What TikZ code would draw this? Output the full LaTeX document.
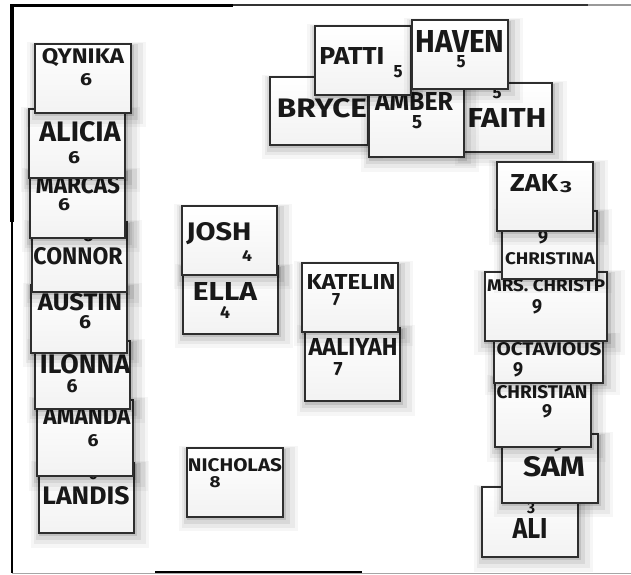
\documentclass[tikz,border=0pt]{standalone}
\usepackage{fontspec}
\setmainfont{Fira Sans}
\usepackage{graphicx}
\usetikzlibrary{shadows}
\tikzset{
  card/.style={rectangle, draw=black!82, line width=1.3pt, inner sep=0pt, outer sep=0pt,
    top color=white, bottom color=black!5,
    general shadow={shadow scale=1.24, shadow xshift=3pt, shadow yshift=-5pt, fill=black, opacity=0.035},
    general shadow={shadow scale=1.17, shadow xshift=3pt, shadow yshift=-4pt, fill=black, opacity=0.05},
    general shadow={shadow scale=1.10, shadow xshift=2pt, shadow yshift=-3pt, fill=black, opacity=0.07},
    general shadow={shadow scale=1.04, shadow xshift=1.5pt, shadow yshift=-2pt, fill=black, opacity=0.11}},
  nm/.style={inner sep=0pt, outer sep=0pt, text=black!90, font=\bfseries},
  frame/.style={draw=black, line cap=butt},
}
\newcommand\cardbox[5]{%
  \pgfmathsetmacro\cbw{#4-#2}\pgfmathsetmacro\cbh{#5-#3}%
  \node[card, minimum width=\cbw pt, minimum height=\cbh pt] (#1) at ({(#2+#4)/2},{(#3+#5)/2}) {};}
\newcommand\putname[6]{%
  \node[nm] (#1) at (#2,#3) {\resizebox{#4pt}{#5pt}{#6}};}
\begin{document}
\begin{tikzpicture}[x=1pt,y=-1pt]
\useasboundingbox[fill=white] (0,0) rectangle (631,574);
% frame
\coordinate (tl) at (12,5);
\coordinate (tm) at (233,5);
\coordinate (tr1) at (588,5);
\coordinate (tr2) at (631,5);
\coordinate (lm) at (12,222);
\coordinate (lb) at (12,573);
\coordinate (br) at (631,573);
\coordinate (bt1) at (155,572);
\coordinate (bt2) at (362,572);
\draw[frame, black!35, line width=1pt] (lb) -- (br);
\draw[frame, black!80, line width=1.6pt] (tm) -- (tr1);
\draw[frame, black!40, line width=1.2pt] (tr1) -- (tr2);
\draw[frame, line width=3pt] (tl) -- (tm);
\draw[frame, line width=4pt] (12,4) -- (lm);
\draw[frame, line width=1.6pt] (lm) -- (lb);
\draw[frame, line width=2pt] (bt1) -- (bt2);

% left column
\cardbox{landis}{39}{463}{134}{533}
\putname{landis-d}{93}{474}{9}{12}{6}
\putname{landis-n}{86}{496}{87}{18}{LANDIS}
\cardbox{amanda}{37}{400}{133}{476}
\putname{amanda-n}{87}{416}{87}{17}{AMANDA}
\putname{amanda-d}{93}{441}{11}{12}{6}
\cardbox{ilonna}{35}{341}{130}{409}
\putname{ilonna-n}{85}{364}{90}{19}{ILONNA}
\putname{ilonna-d}{72}{386}{11}{13}{6}
\cardbox{austin}{31}{285}{127}{353}
\putname{austin-n}{80}{302}{84}{17}{AUSTIN}
\putname{austin-d}{85}{322}{12}{13}{6}
\cardbox{connor}{32}{222}{127}{292}
\putname{connor-d}{88}{236}{11}{12}{6}
\putname{connor-n}{78}{256}{89}{17}{CONNOR}
\cardbox{marcas}{30}{170}{125}{238}
\putname{marcas-n}{78}{185}{84}{17}{MARCAS}
\putname{marcas-d}{64}{205}{12}{12}{6}
\cardbox{alicia}{29}{109}{125}{178}
\putname{alicia-n}{80}{132}{81}{20}{ALICIA}
\putname{alicia-d}{74}{158}{12}{12}{6}
\cardbox{qynika}{35}{44}{131}{113}
\putname{qynika-n}{83}{58}{82}{15}{QYNIKA}
\putname{qynika-d}{86}{80}{12}{12}{6}

% middle
\cardbox{ella}{183}{266}{278}{334}
\putname{ella-n}{225}{291}{64}{18}{ELLA}
\putname{ella-d}{225}{312}{10}{12}{4}
\cardbox{josh}{182}{206}{277}{275}
\putname{josh-n}{219}{234}{65}{18}{JOSH}
\putname{josh-d}{247}{256}{10}{11}{4}
\cardbox{aaliyah}{305}{328}{400}{401}
\putname{aaliyah-n}{353}{347}{89}{17}{AALIYAH}
\putname{aaliyah-d}{338}{369}{9}{13}{7}
\cardbox{katelin}{302}{263}{398}{332}
\putname{katelin-n}{351}{282}{89}{15}{KATELIN}
\putname{katelin-d}{336}{300}{8}{12}{7}
\cardbox{nicholas}{187}{448}{283}{517}
\putname{nicholas-n}{235}{465}{94}{13}{NICHOLAS}
\putname{nicholas-d}{215}{482}{11}{11}{8}

% top group
\cardbox{bryce}{270}{77}{368}{145}
\putname{bryce-n}{322}{108}{90}{19}{BRYCE}
\cardbox{faith}{462}{83}{552}{152}
\putname{faith-d}{497}{93}{9}{11}{5}
\putname{faith-n}{507}{118}{79}{19}{FAITH}
\cardbox{amber}{369}{82}{464}{157}
\putname{amber-n}{414}{101}{78}{18}{AMBER}
\putname{amber-d}{417}{122}{10}{13}{5}
\cardbox{patti}{315}{26}{411}{95}
\putname{patti-n}{352}{56}{65}{17}{PATTI}
\putname{patti-d}{398}{72}{9}{12}{5}
\cardbox{haven}{412}{20}{508}{89}
\putname{haven-n}{460}{41}{89}{22}{HAVEN}
\putname{haven-d}{461}{62}{9}{12}{5}

% right column
\cardbox{ali}{482}{487}{578}{557}
\putname{ali-d}{531}{508}{8}{11}{3}
\putname{ali-n}{530}{528}{35}{20}{ALI}
\cardbox{sam}{502}{434}{598}{503}
\putname{sam-d}{558}{446}{10}{12}{9}
\putname{sam-n}{554}{467}{62}{20}{SAM}
\cardbox{christian}{495}{377}{591}{447}
\putname{christian-n}{542}{392}{91}{13}{CHRISTIAN}
\putname{christian-d}{547}{411}{10}{13}{9}
\cardbox{octavious}{494}{333}{603}{383}
\putname{octavious-n}{549}{349}{105}{13}{OCTAVIOUS}
\putname{octavious-d}{518}{370}{10}{14}{9}
\cardbox{mrs}{485}{272}{607}{341}
\putname{mrs-n}{546}{286}{118}{12}{MRS. CHRISTP}
\putname{mrs-d}{537}{307}{10}{14}{9}
\cardbox{christina}{502}{211}{597}{279}
\putname{christina-d}{543}{237}{10}{13}{9}
\putname{christina-n}{550}{259}{90}{12}{CHRISTINA}
\cardbox{zak}{497}{162}{593}{231}
\putname{zak-n}{534}{183}{48}{17}{ZAK}
\putname{zak-d}{566}{187}{12}{11}{3}
\end{tikzpicture}
\end{document}
